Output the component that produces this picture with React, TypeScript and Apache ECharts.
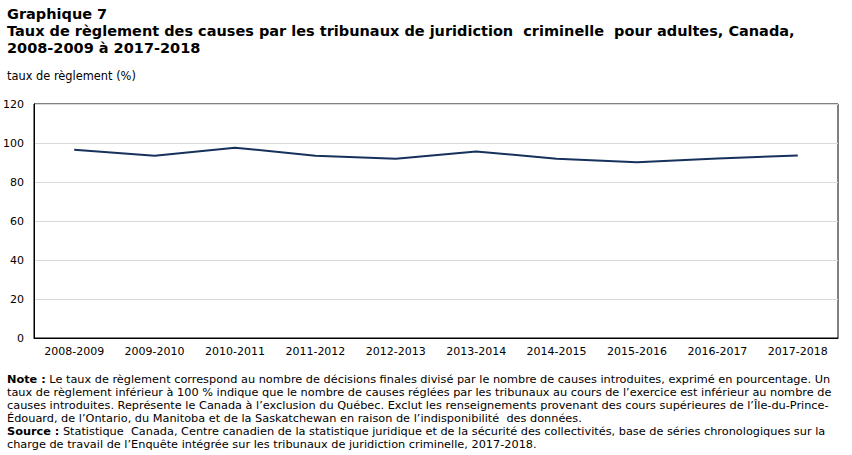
import React, { useEffect, useRef } from "react";
import * as echarts from "echarts";

const categories = [
  "2008-2009", "2009-2010", "2010-2011", "2011-2012", "2012-2013",
  "2013-2014", "2014-2015", "2015-2016", "2016-2017", "2017-2018",
];
const rates = [96.6, 93.5, 97.6, 93.5, 91.9, 95.7, 91.9, 90.1, 92.0, 93.6];

const titleLines = [
  "Graphique 7",
  "Taux de règlement des causes par les tribunaux de juridiction  criminelle  pour adultes, Canada,",
  "2008-2009 à 2017-2018",
];
const yAxisName = "taux de règlement (%)";
const noteLines = [
  ["Note :", " Le taux de règlement correspond au nombre de décisions finales divisé par le nombre de causes introduites, exprimé en pourcentage. Un"],
  ["", "taux de règlement inférieur à 100 % indique que le nombre de causes réglées par les tribunaux au cours de l’exercice est inférieur au nombre de"],
  ["", "causes introduites. Représente le Canada à l’exclusion du Québec. Exclut les renseignements provenant des cours supérieures de l’Île-du-Prince-"],
  ["", "Édouard, de l’Ontario, du Manitoba et de la Saskatchewan en raison de l’indisponibilité  des données."],
  ["Source :", " Statistique  Canada, Centre canadien de la statistique juridique et de la sécurité des collectivités, base de séries chronologiques sur la"],
  ["", "charge de travail de l’Enquête intégrée sur les tribunaux de juridiction criminelle, 2017-2018."],
];

const FONT = "'DejaVu Sans', Verdana, sans-serif";

export default function App() {
  const ref = useRef<HTMLDivElement>(null);
  useEffect(() => {
    if (!ref.current) return;
    const chart = echarts.init(ref.current, undefined, { renderer: "svg" });
    const graphics: any[] = [];
    titleLines.forEach((t, i) => {
      graphics.push({
        type: "text",
        left: 7,
        top: 6 + i * 17,
        style: {
          text: t,
          font: `bold 14.5px 'DejaVu Sans', sans-serif`,
          fill: "#000",
        },
      });
    });
    graphics.push({
      type: "text",
      left: 7,
      top: 70,
      style: { text: yAxisName, font: `11.4px ${FONT}`, fill: "#000" },
    });
    noteLines.forEach(([b, t], i) => {
      graphics.push({
        type: "text",
        left: 7,
        top: 374 + i * 13,
        style: {
          text: b ? `{b|${b}}${t}` : t,
          font: `11.3px ${FONT}`,
          fill: "#000",
          rich: { b: { fontWeight: "bold", fontSize: 11.3, fontFamily: FONT } },
        },
      });
    });
    chart.setOption({
      animation: false,
      backgroundColor: "#fff",
      textStyle: { fontFamily: FONT },
      grid: {
        left: 33,
        right: 14,
        top: 104,
        bottom: 117,
        show: true,
        borderColor: "#000",
        borderWidth: 1,
      },
      xAxis: {
        type: "category",
        data: categories,
        boundaryGap: true,
        axisLine: { lineStyle: { color: "#000", width: 1 } },
        axisTick: { alignWithLabel: true, length: 4, lineStyle: { color: "#000" } },
        axisLabel: { color: "#000", fontSize: 11, margin: 8, fontFamily: FONT },
        splitLine: { show: false },
      },
      yAxis: {
        type: "value",
        min: 0,
        max: 120,
        interval: 20,
        axisLine: { show: true, lineStyle: { color: "#000", width: 1 } },
        axisTick: { show: false },
        axisLabel: { color: "#000", fontSize: 11, margin: 10, fontFamily: FONT },
        splitLine: { show: true, lineStyle: { color: "#d9d9d9", width: 1 } },
      },
      series: [
        {
          type: "line",
          data: rates,
          symbol: "none",
          lineStyle: { color: "#16325c", width: 2 },
        },
      ],
      graphic: graphics,
    });
    return () => chart.dispose();
  }, []);
  return (
    <div
      ref={ref}
      style={{ position: "absolute", left: 0, top: 0, width: 852, height: 455 }}
    />
  );
}
